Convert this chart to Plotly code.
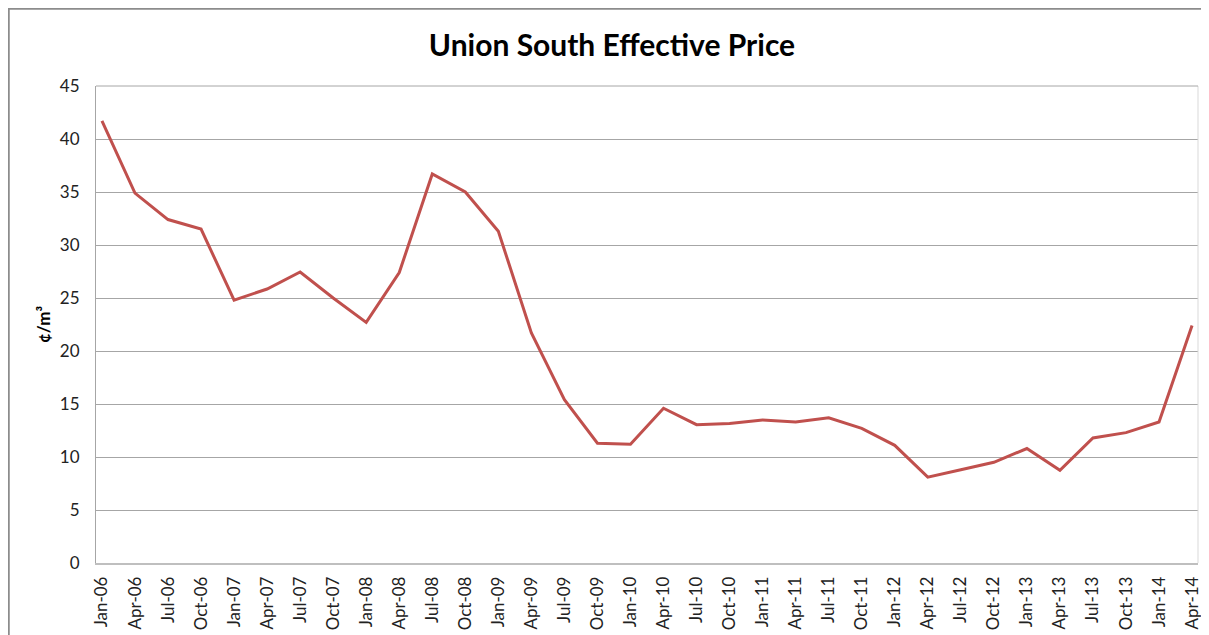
import plotly.graph_objects as go

categories = ["Jan-06","Apr-06","Jul-06","Oct-06","Jan-07","Apr-07","Jul-07","Oct-07",
              "Jan-08","Apr-08","Jul-08","Oct-08","Jan-09","Apr-09","Jul-09","Oct-09",
              "Jan-10","Apr-10","Jul-10","Oct-10","Jan-11","Apr-11","Jul-11","Oct-11",
              "Jan-12","Apr-12","Jul-12","Oct-12","Jan-13","Apr-13","Jul-13","Oct-13",
              "Jan-14","Apr-14"]
prices = [41.7, 34.9, 32.4, 31.5, 24.8, 25.85, 27.45, 25.0,
          22.7, 27.4, 36.7, 35.0, 31.3, 21.7, 15.4, 11.3,
          11.2, 14.6, 13.05, 13.15, 13.5, 13.3, 13.7, 12.7,
          11.1, 8.1, 8.8, 9.5, 10.8, 8.75, 11.8, 12.3,
          13.3, 22.4]
y_ticks = [0, 5, 10, 15, 20, 25, 30, 35, 40, 45]

FONT = "Lato"
W, H = 1201, 627  # page body adds an 8px offset
L, T, R, B = 88, 78, 11, 71.5
PW, PH = W - L - R, H - T - B

fig = go.Figure()
fig.add_trace(go.Scatter(
    x=list(range(len(categories))), y=prices, mode="lines",
    line=dict(color="#C0504D", width=3),
    showlegend=False,
))

fig.update_layout(
    width=W, height=H,
    paper_bgcolor="white", plot_bgcolor="white",
    margin=dict(l=L, r=R, t=T, b=B, autoexpand=False),
    title=dict(text="<b>Union South Effective Price</b>", x=604 / W, xanchor="center",
               y=1 - 37 / H, yanchor="middle",
               font=dict(family=FONT, size=30, color="black")),
    font=dict(family=FONT, size=16, color="#222222"),
    xaxis=dict(
        range=[-0.18, 33.18], automargin=False,
        tickmode="array", tickvals=list(range(len(categories))), ticktext=categories,
        tickangle=-90, tickfont=dict(family=FONT, size=17, color="#222222"),
        ticklabelstandoff=5,
        showgrid=False, zeroline=False,
        showline=True, linecolor="#BFBFBF", linewidth=1.5,
        ticks="", fixedrange=True,
    ),
    yaxis=dict(
        range=[0, 45], tickmode="array", tickvals=y_ticks, automargin=False,
        tickfont=dict(family=FONT, size=17, color="#222222"),
        ticklabelstandoff=12,
        showgrid=True, gridcolor="#A6A6A6", gridwidth=1,
        zeroline=False, showline=True, linecolor="#A6A6A6", linewidth=1,
        ticks="", ticklen=0,
        title=dict(text="<b>¢/m³</b>", font=dict(family=FONT, size=17, color="black"),
                   standoff=4),
    ),
    shapes=[
        dict(type="rect", xref="paper", yref="paper",
             x0=(0.75 - L) / PW, x1=(W + 100 - L) / PW,
             y0=-(B + 100) / PH, y1=(PH + T - 0.75) / PH,
             line=dict(color="#8C8C8C", width=2), fillcolor="rgba(0,0,0,0)", layer="below"),
        dict(type="line", xref="paper", yref="paper", x0=1, x1=1, y0=0, y1=1,
             line=dict(color="#D9D9D9", width=1)),
        dict(type="line", xref="paper", yref="paper", x0=0, x1=1, y0=1, y1=1,
             line=dict(color="#A6A6A6", width=1)),
    ],
)

fig.write_html("out.html")
